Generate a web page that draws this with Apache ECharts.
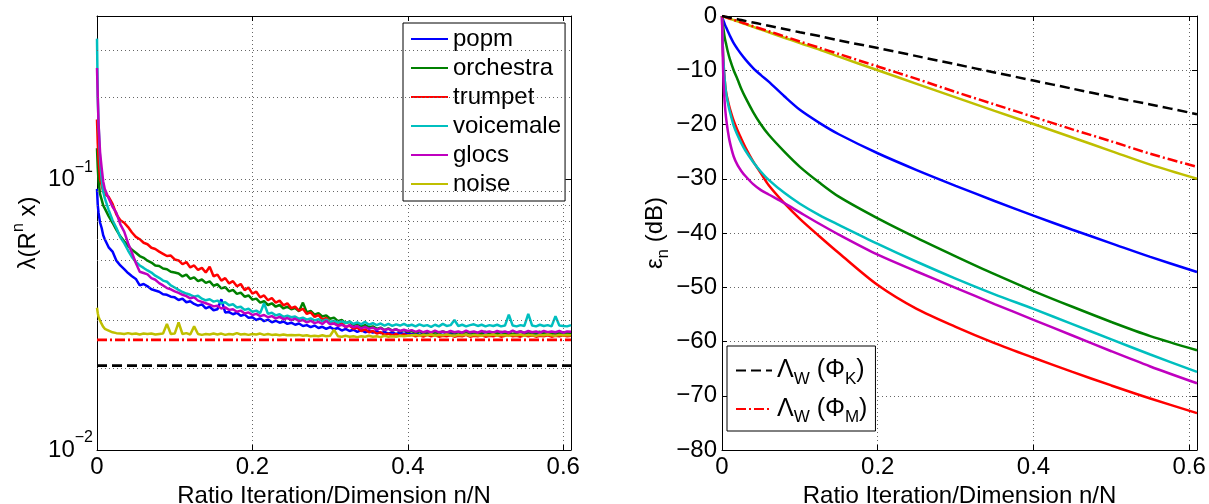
<!DOCTYPE html>
<html><head><meta charset="utf-8">
<script src="https://cdn.jsdelivr.net/npm/echarts@6/dist/echarts.min.js"></script>
<style>html,body{margin:0;padding:0;background:#fff}#c{width:1209px;height:504px}</style>
</head><body><div id="c"></div>
<script>
// ---------- LEFT PLOT DATA (lambda(R^n x), log scale) ----------
const xLeft = [0,0.001,0.002,0.004,0.006,0.008,0.01,0.015,0.02,0.025,0.03,0.035,0.04,0.045,0.05,0.055,0.06,0.065,0.07,0.075,0.08,0.085,0.09,0.095,0.1,
  0.105,0.11,0.115,0.12,0.125,0.13,0.135,0.14,0.145,0.15,
  0.155,0.16,0.165,0.17,0.175,0.18,0.185,0.19,0.195,0.2,
  0.205,0.21,0.215,0.22,0.225,0.23,0.235,0.24,0.245,0.25,
  0.255,0.26,0.265,0.27,0.275,0.28,0.285,0.29,0.295,0.3,
  0.305,0.31,0.315,0.32,0.325,0.33,0.335,0.34,0.345,0.35,
  0.355,0.36,0.365,0.37,0.375,0.38,0.385,0.39,0.395,0.4,
  0.405,0.41,0.415,0.42,0.425,0.43,0.435,0.44,0.445,0.45,
  0.455,0.46,0.465,0.47,0.475,0.48,0.485,0.49,0.495,0.5,
  0.505,0.51,0.515,0.52,0.525,0.53,0.535,0.54,0.545,0.55,
  0.555,0.56,0.565,0.57,0.575,0.58,0.585,0.59,0.595,0.6,
  0.605,0.61];
const popmL = [0.092,0.080,0.075,0.069,0.066,0.062,0.060,0.056,0.054,0.050,0.048,0.0465,0.045,0.0438,0.0428,0.0405,0.0410,0.0402,0.0392,0.0388,0.0384,0.0376,0.0374,0.0368,0.0366,
  0.0358,0.0362,0.0351,0.0354,0.0346,0.0341,0.0345,0.0333,0.0338,0.0328,
  0.0331,0.0360,0.0322,0.0323,0.0317,0.0321,0.0313,0.0316,0.0308,0.0309,
  0.0302,0.0306,0.0299,0.0303,0.0296,0.0300,0.0295,0.0298,0.0292,0.0295,
  0.0290,0.0293,0.0287,0.0289,0.0284,0.0288,0.0282,0.0285,0.0280,0.0284,
  0.0279,0.0282,0.0276,0.0280,0.0275,0.0278,0.0273,0.0277,0.0272,0.0275,
  0.0271,0.0275,0.0270,0.0273,0.0269,0.0272,0.0268,0.0271,0.0268,0.0271,
  0.0267,0.0270,0.0266,0.0269,0.0267,0.0270,0.0265,0.0268,0.0266,0.0269,
  0.0267,0.0270,0.0265,0.0268,0.0266,0.0270,0.0267,0.0265,0.0269,0.0266,
  0.0268,0.0265,0.0269,0.0266,0.0270,0.0267,0.0265,0.0268,0.0266,0.0269,
  0.0267,0.0265,0.0269,0.0266,0.0268,0.0270,0.0266,0.0268,0.0265,0.0268,
  0.0266,0.0268];
const orchestraL = [0.130,0.110,0.098,0.088,0.084,0.080,0.078,0.073,0.069,0.065,0.0615,0.059,0.0567,0.0548,0.0535,0.0520,0.0512,0.0500,0.0492,0.0480,0.0478,0.0468,0.0465,0.0455,0.0452,
  0.0448,0.0437,0.0444,0.0428,0.0434,0.0420,0.0426,0.0414,0.0419,0.0404,
  0.0409,0.0395,0.0399,0.0385,0.0390,0.0377,0.0381,0.0368,0.0372,0.0359,
  0.0362,0.0350,0.0354,0.0343,0.0348,0.0338,0.0343,0.0333,0.0338,0.0331,
  0.0334,0.0325,0.0350,0.0322,0.0326,0.0316,0.0320,0.0311,0.0314,0.0305,
  0.0308,0.0299,0.0302,0.0294,0.0298,0.0289,0.0293,0.0286,0.0289,0.0284,
  0.0286,0.0280,0.0283,0.0277,0.0281,0.0276,0.0279,0.0274,0.0277,0.0273,
  0.0275,0.0271,0.0274,0.0270,0.0273,0.0269,0.0272,0.0270,0.0274,0.0271,
  0.0273,0.0270,0.0272,0.0269,0.0273,0.0270,0.0272,0.0268,0.0271,0.0273,
  0.0270,0.0272,0.0269,0.0273,0.0270,0.0272,0.0268,0.0271,0.0274,0.0270,
  0.0272,0.0269,0.0271,0.0273,0.0270,0.0272,0.0269,0.0271,0.0270,0.0272,
  0.0270,0.0271];
const trumpetL = [0.166,0.135,0.118,0.100,0.095,0.090,0.088,0.086,0.081,0.074,0.0705,0.069,0.0665,0.0635,0.0612,0.0600,0.0582,0.0575,0.0558,0.0552,0.0540,0.0530,0.0520,0.0522,0.0505,
  0.0501,0.0485,0.0494,0.0472,0.0480,0.0462,0.0470,0.0452,0.0475,0.0438,
  0.0444,0.0422,0.0431,0.0412,0.0420,0.0402,0.0410,0.0389,0.0398,0.0378,
  0.0384,0.0366,0.0372,0.0357,0.0364,0.0350,0.0356,0.0342,0.0348,0.0334,
  0.0338,0.0327,0.0332,0.0318,0.0322,0.0310,0.0315,0.0303,0.0307,0.0296,
  0.0299,0.0290,0.0294,0.0284,0.0288,0.0280,0.0283,0.0275,0.0279,0.0272,
  0.0275,0.0269,0.0272,0.0266,0.0269,0.0265,0.0268,0.0264,0.0267,0.0264,
  0.0266,0.0263,0.0265,0.0262,0.0266,0.0263,0.0265,0.0262,0.0264,0.0263,
  0.0265,0.0262,0.0264,0.0263,0.0266,0.0262,0.0264,0.0263,0.0265,0.0262,
  0.0264,0.0263,0.0265,0.0262,0.0264,0.0266,0.0263,0.0264,0.0262,0.0265,
  0.0263,0.0265,0.0262,0.0264,0.0263,0.0265,0.0262,0.0264,0.0263,0.0265,
  0.0263,0.0264];
const voicemaleL = [0.330,0.200,0.160,0.118,0.100,0.090,0.085,0.077,0.0705,0.066,0.061,0.058,0.0545,0.0515,0.0495,0.0480,0.0470,0.0460,0.0452,0.0440,0.0432,0.0422,0.0418,0.0405,0.0398,
  0.0390,0.0383,0.0378,0.0374,0.0368,0.0371,0.0362,0.0357,0.0360,0.0353,
  0.0356,0.0348,0.0351,0.0342,0.0345,0.0336,0.0338,0.0329,0.0332,0.0324,
  0.0327,0.0320,0.0348,0.0318,0.0321,0.0314,0.0317,0.0310,0.0313,0.0309,
  0.0311,0.0305,0.0308,0.0303,0.0306,0.0301,0.0304,0.0299,0.0303,0.0297,
  0.0300,0.0295,0.0299,0.0294,0.0298,0.0292,0.0296,0.0291,0.0297,0.0290,
  0.0294,0.0289,0.0293,0.0288,0.0292,0.0287,0.0291,0.0288,0.0292,0.0287,
  0.0290,0.0286,0.0291,0.0287,0.0289,0.0285,0.0290,0.0286,0.0292,0.0287,
  0.0289,0.0302,0.0287,0.0290,0.0286,0.0289,0.0291,0.0287,0.0290,0.0286,
  0.0289,0.0287,0.0290,0.0286,0.0288,0.0316,0.0288,0.0286,0.0289,0.0287,
  0.0318,0.0288,0.0286,0.0290,0.0287,0.0289,0.0286,0.0312,0.0288,0.0287,
  0.0286,0.0289];
const glocsL = [0.257,0.200,0.160,0.125,0.110,0.098,0.092,0.085,0.079,0.075,0.068,0.064,0.058,0.0535,0.0490,0.0455,0.0450,0.0445,0.0431,0.0425,0.0413,0.0405,0.0396,0.0392,0.0385,
  0.0380,0.0374,0.0370,0.0363,0.0366,0.0356,0.0352,0.0348,0.0344,0.0339,
  0.0341,0.0333,0.0336,0.0329,0.0331,0.0324,0.0327,0.0319,0.0322,0.0315,
  0.0318,0.0312,0.0315,0.0309,0.0312,0.0306,0.0310,0.0304,0.0307,0.0302,
  0.0305,0.0299,0.0302,0.0296,0.0300,0.0294,0.0297,0.0292,0.0300,0.0291,
  0.0293,0.0287,0.0290,0.0285,0.0289,0.0284,0.0287,0.0281,0.0285,0.0280,
  0.0283,0.0278,0.0282,0.0277,0.0280,0.0276,0.0279,0.0275,0.0278,0.0275,
  0.0277,0.0273,0.0276,0.0272,0.0275,0.0271,0.0276,0.0272,0.0274,0.0271,
  0.0275,0.0272,0.0274,0.0271,0.0276,0.0272,0.0274,0.0271,0.0275,0.0272,
  0.0274,0.0271,0.0275,0.0272,0.0274,0.0271,0.0276,0.0272,0.0274,0.0271,
  0.0275,0.0272,0.0274,0.0271,0.0275,0.0272,0.0274,0.0272,0.0275,0.0271,
  0.0274,0.0273];
const noiseL = [0.0335,0.0320,0.0310,0.0300,0.0292,0.0285,0.0280,0.0276,0.0272,0.0270,0.0269,0.0268,0.0270,0.0268,0.0269,0.0267,0.0269,0.0268,0.0269,0.0267,0.0268,0.0269,0.0292,0.0268,0.0269,
  0.0296,0.0268,0.0270,0.0267,0.0286,0.0268,0.0266,0.0268,0.0267,0.0269,
  0.0267,0.0269,0.0266,0.0268,0.0267,0.0270,0.0267,0.0268,0.0266,0.0268,
  0.0267,0.0269,0.0266,0.0268,0.0266,0.0267,0.0265,0.0267,0.0265,0.0266,
  0.0265,0.0266,0.0264,0.0265,0.0263,0.0264,0.0263,0.0265,0.0263,0.0264,
  0.0278,0.0263,0.0262,0.0264,0.0262,0.0263,0.0261,0.0263,0.0262,0.0264,
  0.0262,0.0263,0.0261,0.0264,0.0262,0.0263,0.0262,0.0264,0.0263,0.0264,
  0.0265,0.0266,0.0264,0.0266,0.0265,0.0267,0.0264,0.0266,0.0265,0.0267,
  0.0265,0.0264,0.0266,0.0265,0.0267,0.0264,0.0266,0.0265,0.0264,0.0266,
  0.0265,0.0267,0.0264,0.0266,0.0265,0.0264,0.0266,0.0265,0.0267,0.0264,
  0.0266,0.0265,0.0264,0.0266,0.0265,0.0267,0.0265,0.0264,0.0266,0.0265,
  0.0266,0.0265];
const lambdaK = 0.0205;   // Λ_W(Φ_K) level in left plot
const lambdaM = 0.0255;   // Λ_W(Φ_M) level in left plot
const constX = [0, 0.61];
const minorGridLeft = [0.02,0.03,0.04,0.05,0.06,0.07,0.08,0.09,0.2,0.3];

// ---------- RIGHT PLOT DATA (epsilon_n, dB) ----------
const xRight = [0,0.001,0.002,0.0035,0.005,0.0075,0.01,0.015,0.02,0.025,0.03,0.04,0.05,0.06,0.08,0.1,0.125,0.15,0.2,0.25,0.3,0.35,0.4,0.45,0.5,0.55,0.61];
const popmR      = [0,-0.5,-0.9,-1.5,-2.0,-2.8,-3.6,-5.0,-6.1,-7.1,-8.0,-9.6,-10.9,-12.1,-14.8,-17.3,-19.7,-21.8,-25.3,-28.4,-31.3,-34.1,-36.8,-39.4,-41.9,-44.4,-47.2];
const orchestraR = [0,-1.3,-2.5,-4.0,-5.0,-6.6,-7.9,-10.0,-11.7,-13.5,-15.0,-17.7,-20.0,-21.9,-25.0,-27.8,-30.7,-33.3,-37.3,-40.9,-44.3,-47.6,-50.7,-53.6,-56.4,-59.0,-61.6];
const trumpetR   = [0,-5.5,-8.8,-11.8,-13.8,-15.6,-17.0,-19.3,-21.1,-22.7,-24.2,-26.8,-29.0,-31.2,-34.5,-37.4,-40.6,-43.7,-49.6,-54.0,-57.3,-60.3,-63.0,-65.6,-68.1,-70.5,-73.2];
const voicemaleR = [0,-5.5,-8.8,-11.8,-14.0,-16.0,-17.6,-20.2,-22.0,-23.5,-24.8,-26.9,-28.7,-30.2,-32.6,-34.6,-36.7,-38.5,-42.0,-45.3,-48.4,-51.3,-54.0,-56.8,-59.6,-62.4,-65.6];
const glocsR     = [0,-7.5,-12.3,-16.0,-18.5,-21.2,-23.2,-25.9,-27.5,-28.6,-29.5,-31.0,-32.1,-32.9,-34.5,-36.2,-38.3,-40.3,-44.0,-47.1,-50.1,-53.1,-56.0,-58.9,-61.8,-64.6,-67.7];
const noiseR     = [0,-0.05,-0.1,-0.17,-0.25,-0.37,-0.5,-0.75,-1.0,-1.25,-1.5,-2.0,-2.5,-3.0,-4.0,-5.0,-6.2,-7.5,-10.0,-12.5,-15.0,-17.5,-19.9,-22.4,-24.9,-27.4,-30.0];
const lambdaMR   = [0,-0.05,-0.1,-0.16,-0.23,-0.35,-0.47,-0.7,-0.94,-1.17,-1.4,-1.9,-2.35,-2.8,-3.75,-4.7,-5.85,-7.0,-9.3,-11.6,-14.0,-16.3,-18.6,-20.9,-23.1,-25.4,-27.8];
const lambdaKR   = [0,-0.03,-0.06,-0.1,-0.15,-0.22,-0.3,-0.45,-0.6,-0.75,-0.9,-1.2,-1.5,-1.8,-2.4,-3.0,-3.7,-4.5,-5.9,-7.4,-8.9,-10.4,-11.9,-13.4,-14.9,-16.3,-18.1];

const seriesNames = ['popm','orchestra','trumpet','voicemale','glocs','noise'];
const xTitle = 'Ratio Iteration/Dimension n/N';

// ---------- styling ----------
const FONT = '"Liberation Sans", Arial, Helvetica, sans-serif';
const colors = {popm:'#0000ff', orchestra:'#008000', trumpet:'#ff0000', voicemale:'#00bfbf', glocs:'#bf00bf', noise:'#bfbf00'};
const leftData = {popm:popmL, orchestra:orchestraL, trumpet:trumpetL, voicemale:voicemaleL, glocs:glocsL, noise:noiseL};
const rightData = {popm:popmR, orchestra:orchestraR, trumpet:trumpetR, voicemale:voicemaleR, glocs:glocsR, noise:noiseR};
const GRIDLINE = {type:[1,3], color:'#666', width:1};
const zip = (xs, ys) => xs.map((x,i)=>[x, ys[i]]);

const xLabelFmt = v => (Math.abs(v*5 - Math.round(v*5)) < 1e-9) ? String(+v.toFixed(1)) : '';
function xAxisMain(gi){
  return {gridIndex:gi, type:'value', min:0, max:0.61, interval:0.2, position:'bottom',
    axisLine:{show:true, onZero:false, lineStyle:{color:'#000', width:1}},
    axisTick:{show:true, inside:true, length:5, lineStyle:{color:'#000'}},
    axisLabel:{formatter:xLabelFmt, fontSize:24, color:'#000', fontFamily:FONT, margin:5, showMaxLabel:false},
    splitLine:{show:true, lineStyle:GRIDLINE},
    name:xTitle, nameLocation:'middle', nameGap:26,
    nameTextStyle:{fontSize:24, color:'#000', fontFamily:FONT}};
}
function xAxisTop(gi){
  return {gridIndex:gi, type:'value', min:0, max:0.61, interval:0.2, position:'top',
    axisLine:{show:true, onZero:false, lineStyle:{color:'#000', width:1}},
    axisTick:{show:true, inside:true, length:5, lineStyle:{color:'#000'}},
    axisLabel:{show:false}, splitLine:{show:false}};
}
const supRich = {
  b:{fontSize:24, lineHeight:40, color:'#000', fontFamily:FONT},
  s:{fontSize:16, lineHeight:16, verticalAlign:'top', color:'#000', fontFamily:FONT}
};
const logFmt = v => {
  const l = Math.log10(v), e = Math.round(l);
  if (Math.abs(l - e) > 1e-6) return '';
  return '{b|10}{s|' + (e < 0 ? '\u2212' : '') + Math.abs(e) + '}';
};

const LW = 2.5;
const series = [];
// helper series holding the minor log gridlines of the left plot
series.push({type:'line', name:'_grid', xAxisIndex:0, yAxisIndex:0, data:[], z:1, silent:true,
  markLine:{silent:true, symbol:'none', label:{show:false}, lineStyle:GRIDLINE, animation:false,
    data:minorGridLeft.map(v=>({yAxis:v}))}});

seriesNames.forEach(n=>{
  series.push({type:'line', name:n, xAxisIndex:0, yAxisIndex:0, data:zip(xLeft, leftData[n]),
    symbol:'none', showSymbol:false, lineStyle:{width:LW, color:colors[n]}, itemStyle:{color:colors[n]}, z:3});
});
series.push({type:'line', name:'LM', xAxisIndex:0, yAxisIndex:0, data:zip(constX,[lambdaM,lambdaM]),
  symbol:'none', lineStyle:{width:2.8, color:'#ff0000', type:[10,3,2,3]}, itemStyle:{color:'#ff0000'}, z:3});
series.push({type:'line', name:'LK', xAxisIndex:0, yAxisIndex:0, data:zip(constX,[lambdaK,lambdaK]),
  symbol:'none', lineStyle:{width:2.8, color:'#000', type:[10,5]}, itemStyle:{color:'#000'}, z:3});

seriesNames.forEach(n=>{
  series.push({type:'line', name:n, xAxisIndex:2, yAxisIndex:2, data:zip(xRight, rightData[n]),
    symbol:'none', showSymbol:false, smooth:0.3, lineStyle:{width:LW, color:colors[n]}, itemStyle:{color:colors[n]}, z:3});
});
series.push({type:'line', name:'LM', xAxisIndex:2, yAxisIndex:2, data:zip(xRight, lambdaMR),
  symbol:'none', smooth:0.3, lineStyle:{width:LW, color:'#ff0000', type:[10,3,2,3]}, itemStyle:{color:'#ff0000'}, z:3});
series.push({type:'line', name:'LK', xAxisIndex:2, yAxisIndex:2, data:zip(xRight, lambdaKR),
  symbol:'none', smooth:0.3, lineStyle:{width:LW, color:'#000', type:[10,5]}, itemStyle:{color:'#000'}, z:3});

const legendRich = {
  a:{fontSize:25, lineHeight:34, color:'#000', fontFamily:FONT},
  s:{fontSize:17, lineHeight:17, verticalAlign:'bottom', color:'#000', fontFamily:FONT}
};
const legendLabel = {LK:'{a|\u039B}{s|W}{a| (\u03A6}{s|K}{a|)}', LM:'{a|\u039B}{s|W}{a| (\u03A6}{s|M}{a|)}'};

const option = {
  animation:false,
  backgroundColor:'#fff',
  grid:[
    {left:97, top:16, width:474, height:434, containLabel:false, outerBoundsMode:'none'},
    {left:722, top:16, width:475, height:434, containLabel:false, outerBoundsMode:'none'}
  ],
  xAxis:[xAxisMain(0), xAxisTop(0), xAxisMain(1), xAxisTop(1)],
  yAxis:[
    {gridIndex:0, type:'log', logBase:10, min:0.01, max:0.4, position:'left',
      axisLine:{show:true, onZero:false, lineStyle:{color:'#000', width:1}},
      axisTick:{show:true, inside:true, length:5, lineStyle:{color:'#000'}},
      axisLabel:{formatter:logFmt, rich:supRich, margin:4, showMaxLabel:false},
      splitLine:{show:true, lineStyle:GRIDLINE},
      name:'{a|\u03BB(R}{p|n}{a| x)}', nameLocation:'middle', nameRotate:90, nameGap:52,
      nameTextStyle:{rich:{
        a:{fontSize:24, lineHeight:34, color:'#000', fontFamily:FONT},
        p:{fontSize:16, lineHeight:16, verticalAlign:'top', color:'#000', fontFamily:FONT}}}},
    {gridIndex:0, type:'log', logBase:10, min:0.01, max:0.4, position:'right',
      axisLine:{show:true, onZero:false, lineStyle:{color:'#000', width:1}},
      axisTick:{show:true, inside:true, length:5, lineStyle:{color:'#000'}},
      axisLabel:{show:false}, splitLine:{show:false}},
    {gridIndex:1, type:'value', min:-80, max:0, interval:10, position:'left',
      axisLine:{show:true, onZero:false, lineStyle:{color:'#000', width:1}},
      axisTick:{show:true, inside:true, length:5, lineStyle:{color:'#000'}},
      axisLabel:{formatter:v=>String(v).replace('-', '\u2212'), fontSize:24, color:'#000', fontFamily:FONT, margin:5},
      splitLine:{show:true, lineStyle:GRIDLINE},
      name:'{a|\u03B5}{s|n}{a| (dB)}', nameLocation:'middle', nameRotate:90, nameGap:50,
      nameTextStyle:{rich:{
        a:{fontSize:24, lineHeight:34, color:'#000', fontFamily:FONT},
        s:{fontSize:17, lineHeight:17, verticalAlign:'bottom', color:'#000', fontFamily:FONT}}}},
    {gridIndex:1, type:'value', min:-80, max:0, interval:10, position:'right',
      axisLine:{show:true, onZero:false, lineStyle:{color:'#000', width:1}},
      axisTick:{show:true, inside:true, length:5, lineStyle:{color:'#000'}},
      axisLabel:{show:false}, splitLine:{show:false}}
  ],
  legend:[
    {data:seriesNames, orient:'vertical', left:403, top:23, padding:[3,4,4,7],
      itemWidth:37, itemHeight:14, itemGap:3, selectedMode:false,
      itemStyle:{opacity:0},
      textStyle:{fontSize:24, lineHeight:26, color:'#000', fontFamily:FONT},
      borderColor:'#000', borderWidth:1, backgroundColor:'#fff', borderRadius:0},
    {data:['LK','LM'], orient:'vertical', left:727, top:346, padding:[12,8,5,8],
      itemWidth:36, itemHeight:14, itemGap:9, selectedMode:false,
      itemStyle:{opacity:0},
      formatter:n=>legendLabel[n],
      textStyle:{fontSize:24, color:'#000', fontFamily:FONT, rich:legendRich},
      borderColor:'#000', borderWidth:1, backgroundColor:'#fff', borderRadius:0}
  ],
  series:series
};
const chart = echarts.init(document.getElementById('c'));
chart.setOption(option);
</script>
</body></html>
